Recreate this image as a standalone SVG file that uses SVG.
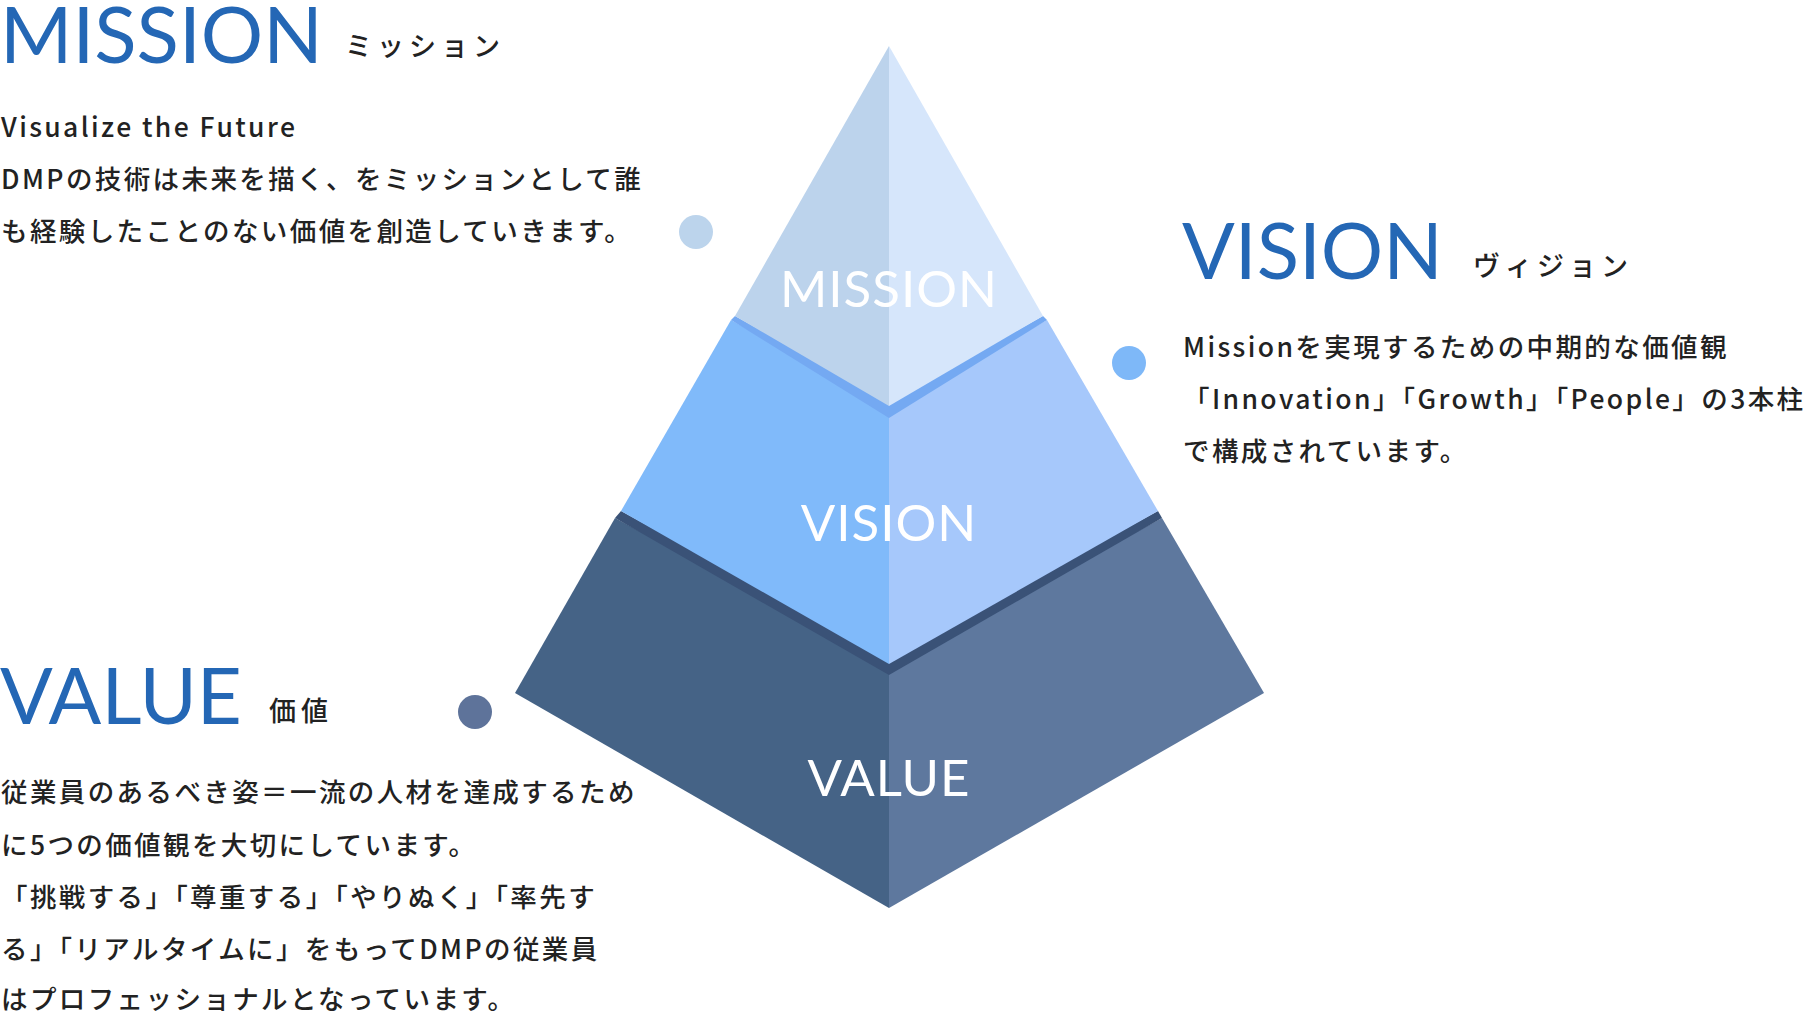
<svg xmlns="http://www.w3.org/2000/svg" width="1816" height="1015" viewBox="0 0 1816 1015">
<style>
.h{font-family:Lato,"Noto Sans",sans-serif;fill:#2467b5;font-size:78px;letter-spacing:0px}
.k{font-family:"Noto Sans CJK JP",sans-serif;fill:#222;font-size:27px;font-weight:500;letter-spacing:5px}
.b{font-family:"Noto Sans CJK JP",sans-serif;fill:#222;font-size:26.5px;font-weight:500;letter-spacing:2.4px}
.p{font-family:Lato,"Noto Sans",sans-serif;fill:#fff;font-size:51px;letter-spacing:1px;text-anchor:middle}
</style>
<rect width="1816" height="1015" fill="#fff"/>
<g id="pyramid">
<polygon points="515,693 615,518 889,666 889,908" fill="#456386"/>
<polygon points="1264,693 1162,518 889,666 889,908" fill="#5e789e"/>
<polygon points="615,518 621,511 889,657 889,675" fill="#3a5277"/>
<polygon points="1162,518 1158,511 889,657 889,675" fill="#3a5277"/>
<polygon points="621,511 731,320 889,410 889,664" fill="#80bafa"/>
<polygon points="1158,511 1047,320 889,410 889,664" fill="#a6c8fb"/>
<polygon points="731,320 735,316 889,401 889,418" fill="#74a9f2"/>
<polygon points="1047,320 1043,316 889,401 889,418" fill="#74a9f2"/>
<polygon points="889,46 735,316 889,406" fill="#bcd3ec"/>
<polygon points="889,46 1043,316 889,406" fill="#d6e6fb"/>
<text class="p" x="889" y="307">MISSION</text>
<text class="p" x="889" y="541">VISION</text>
<text class="p" x="889" y="796">VALUE</text>
</g>
<g id="mission">
<circle cx="696" cy="232" r="17" fill="#bcd4ec"/>
<text class="h" x="0" y="63">MISSION</text>
<text class="k" x="345" y="56">ミッション</text>
<text class="b" x="1" y="137">Visualize the Future</text>
<text class="b" x="1" y="189">DMPの技術は未来を描く、をミッションとして誰</text>
<text class="b" x="1" y="241">も経験したことのない価値を創造していきます。</text>
</g>
<g id="vision">
<circle cx="1129" cy="363" r="17" fill="#7eb8f8"/>
<text class="h" x="1182" y="279">VISION</text>
<text class="k" x="1473" y="276">ヴィジョン</text>
<text class="b" x="1183" y="357">Missionを実現するための中期的な価値観</text>
<text class="b" x="1183" y="409">「Innovation」「Growth」「People」の3本柱</text>
<text class="b" x="1183" y="461">で構成されています。</text>
</g>
<g id="value">
<circle cx="475" cy="712" r="17" fill="#5e739a"/>
<text class="h" x="0" y="724">VALUE</text>
<text class="k" x="269" y="721">価値</text>
<text class="b" x="1" y="802">従業員のあるべき姿＝一流の人材を達成するため</text>
<text class="b" x="1" y="855">に5つの価値観を大切にしています。</text>
<text class="b" x="1" y="907">「挑戦する」「尊重する」「やりぬく」「率先す</text>
<text class="b" x="1" y="959">る」「リアルタイムに」をもってDMPの従業員</text>
<text class="b" x="1" y="1009">はプロフェッショナルとなっています。</text>
</g>
<g id="connectors"/>
</svg>
